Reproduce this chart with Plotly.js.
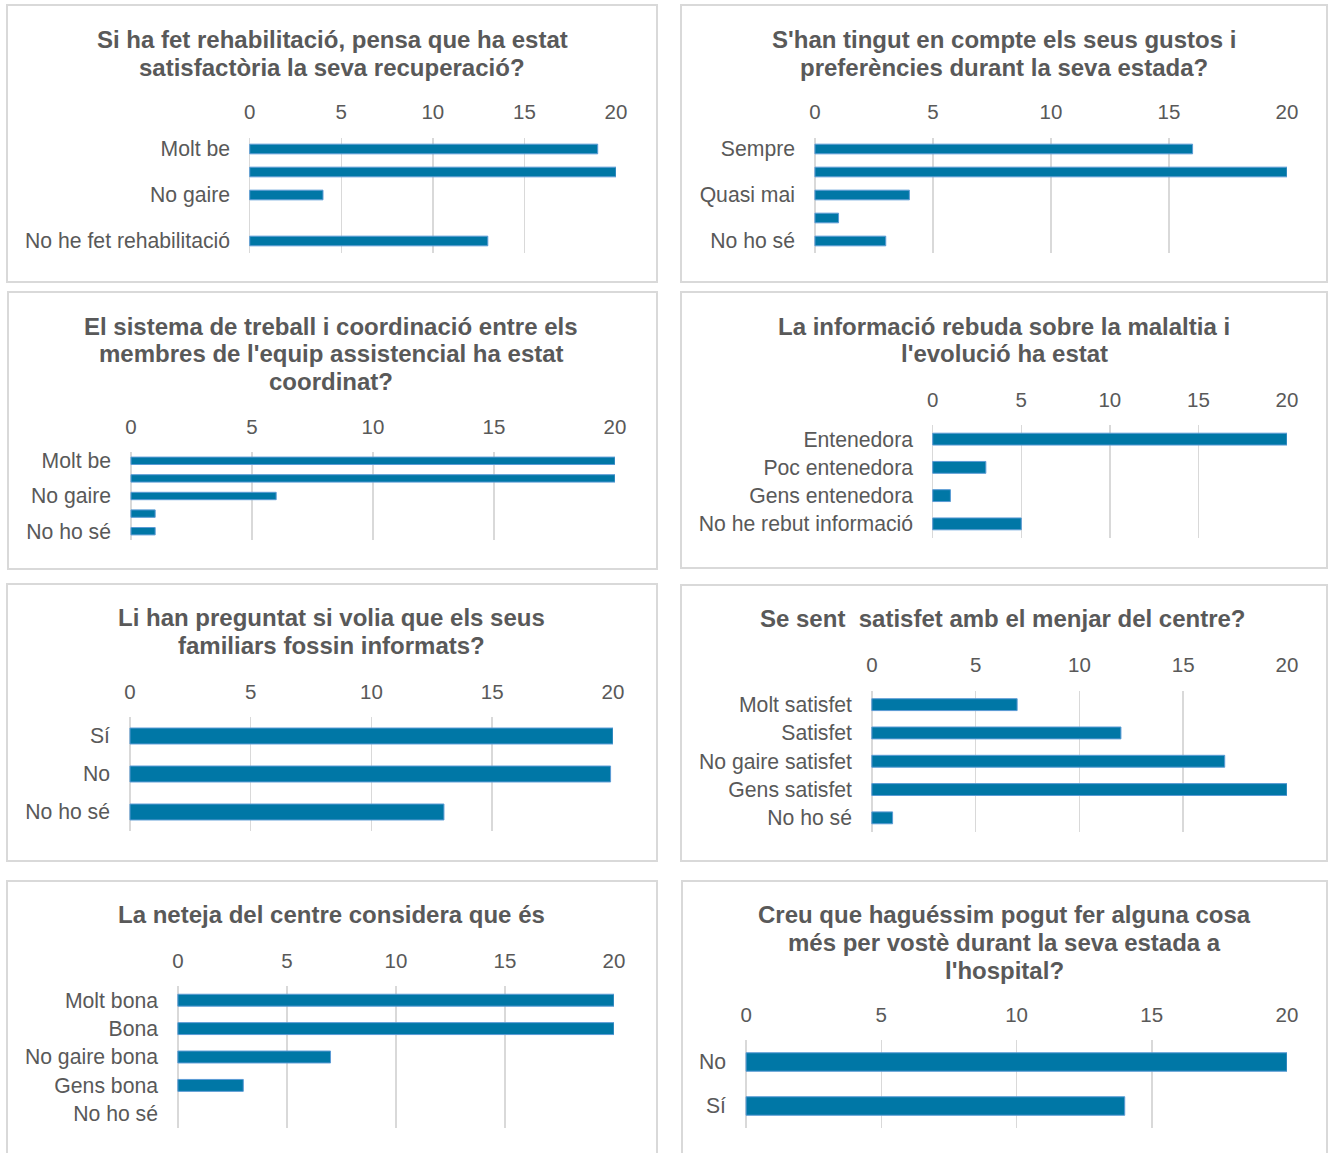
<!DOCTYPE html>
<html>
<head>
<meta charset="utf-8">
<script src="https://cdn.plot.ly/plotly-3.0.1.min.js"></script>
<style>
  html, body { margin: 0; padding: 0; background: #ffffff; }
  #chart { width: 1332px; height: 1153px; }
</style>
</head>
<body>
<div id="chart"></div>
<script>
// ---------- DATA ----------
const title1 = ["Si ha fet rehabilitació, pensa que ha estat", "satisfactòria la seva recuperació?"];
const labels1 = ["Molt be", "", "No gaire", "", "No he fet rehabilitació"];
const values1 = [19, 20, 4, 0, 13];

const title2 = ["S'han tingut en compte els seus gustos i", "preferències durant la seva estada?"];
const labels2 = ["Sempre", "", "Quasi mai", "", "No ho sé"];
const values2 = [16, 20, 4, 1, 3];

const title3 = ["El sistema de treball i coordinació entre els", "membres de l'equip assistencial ha estat", "coordinat?"];
const labels3 = ["Molt be", "", "No gaire", "", "No ho sé"];
const values3 = [20, 20, 6, 1, 1];

const title4 = ["La informació rebuda sobre la malaltia i", "l'evolució ha estat"];
const labels4 = ["Entenedora", "Poc entenedora", "Gens entenedora", "No he rebut informació"];
const values4 = [20, 3, 1, 5];

const title5 = ["Li han preguntat si volia que els seus", "familiars fossin informats?"];
const labels5 = ["Sí", "No", "No ho sé"];
const values5 = [20, 19.9, 13];

const title6 = ["Se sent  satisfet amb el menjar del centre?"];
const labels6 = ["Molt satisfet", "Satisfet", "No gaire satisfet", "Gens satisfet", "No ho sé"];
const values6 = [7, 12, 17, 20, 1];

const title7 = ["La neteja del centre considera que és"];
const labels7 = ["Molt bona", "Bona", "No gaire bona", "Gens bona", "No ho sé"];
const values7 = [20, 20, 7, 3, 0];

const title8 = ["Creu que haguéssim pogut fer alguna cosa", "més per vostè durant la seva estada a", "l'hospital?"];
const labels8 = ["No", "Sí"];
const values8 = [20, 14];

const xTickVals = [0, 5, 10, 15, 20];

// ---------- LAYOUT GEOMETRY (pixels) ----------
const W = 1332, H = 1153;
const panels = [
  {t: title1, l: labels1, v: values1, x0: 249, x1: 616, yT: 137.5, yB: 252.5, tx: 332, ty: [39.5, 67.5], box: [7, 5, 657, 282]},
  {t: title2, l: labels2, v: values2, x0: 814, x1: 1287, yT: 137.5, yB: 252.5, tx: 1004, ty: [39.5, 67.5], box: [681, 5, 1327, 282]},
  {t: title3, l: labels3, v: values3, x0: 130, x1: 615, yT: 452, yB: 540, tx: 331, ty: [326.5, 353.5, 381.5], box: [8, 292, 657, 569]},
  {t: title4, l: labels4, v: values4, x0: 932, x1: 1287, yT: 425, yB: 538, tx: 1004, ty: [326.5, 353.5], box: [681, 292, 1327, 568]},
  {t: title5, l: labels5, v: values5, x0: 129, x1: 613, yT: 717, yB: 831, tx: 331, ty: [617.5, 645.5], box: [7, 584, 657, 861]},
  {t: title6, l: labels6, v: values6, x0: 871, x1: 1287, yT: 690.5, yB: 832, tx: 1003, ty: [618.5], box: [681, 585, 1327, 861]},
  {t: title7, l: labels7, v: values7, x0: 177, x1: 614, yT: 986, yB: 1128, tx: 331, ty: [914.5], box: [7, 881, 657, 1165]},
  {t: title8, l: labels8, v: values8, x0: 745, x1: 1287, yT: 1040, yB: 1128, tx: 1005, ty: [914.5, 942.5, 970.5], box: [682, 881, 1327, 1165]}
];

const FONT = "'Liberation Sans', Arial, sans-serif";
const TXT = "#595959";
const GRID = "#D9D9D9";

const traces = [];
const layout = {
  width: W, height: H,
  margin: {l: 0, r: 0, t: 0, b: 0},
  paper_bgcolor: "#ffffff",
  plot_bgcolor: "rgba(0,0,0,0)",
  showlegend: false,
  bargap: 0.58,
  font: {family: FONT, color: TXT},
  shapes: [],
  annotations: []
};

panels.forEach((p, i) => {
  const n = i + 1;
  const sfx = n === 1 ? "" : String(n);
  const idx = p.l.map((_, k) => k);
  traces.push({
    type: "bar",
    orientation: "h",
    x: p.v,
    y: idx,
    xaxis: "x" + sfx,
    yaxis: "y" + sfx,
    marker: {color: "#0077A6", line: {color: "#5B9BD5", width: p.v.map(v => v > 0 ? 1 : 0)}},
    hoverinfo: "x+y"
  });
  layout["xaxis" + sfx] = {
    domain: [p.x0 / W, p.x1 / W],
    anchor: "y" + sfx,
    side: "top",
    range: [-0.04, 20],
    tickvals: xTickVals,
    ticktext: xTickVals.map(String),
    showgrid: true,
    gridcolor: GRID,
    gridwidth: 1.5,
    zeroline: true,
    zerolinecolor: GRID,
    zerolinewidth: 1.5,
    showline: false,
    ticks: "",
    ticklabelstandoff: 13,
    tickfont: {family: FONT, size: 20.5, color: TXT},
    fixedrange: true
  };
  layout["yaxis" + sfx] = {
    domain: [1 - p.yB / H, 1 - p.yT / H],
    anchor: "x" + sfx,
    range: [p.l.length - 0.5, -0.5],
    tickvals: idx,
    ticktext: p.l,
    showgrid: false,
    zeroline: false,
    showline: false,
    ticks: "",
    ticklabelstandoff: 18,
    tickfont: {family: FONT, size: 21.2, color: TXT},
    fixedrange: true
  };
  const b = p.box;
  layout.shapes.push({
    type: "rect", xref: "paper", yref: "paper",
    x0: b[0] / W, x1: b[2] / W, y0: 1 - b[3] / H, y1: 1 - b[1] / H,
    line: {color: GRID, width: 2}, fillcolor: "rgba(0,0,0,0)", layer: "below"
  });
  p.t.forEach((line, k) => {
    layout.annotations.push({
      xref: "paper", yref: "paper",
      x: p.tx / W, y: 1 - p.ty[k] / H,
      xanchor: "center", yanchor: "middle",
      text: line, showarrow: false,
      font: {family: FONT, size: 24, color: TXT, weight: "bold"}
    });
  });
});

Plotly.newPlot("chart", traces, layout, {staticPlot: true, displayModeBar: false});
</script>
</body>
</html>
